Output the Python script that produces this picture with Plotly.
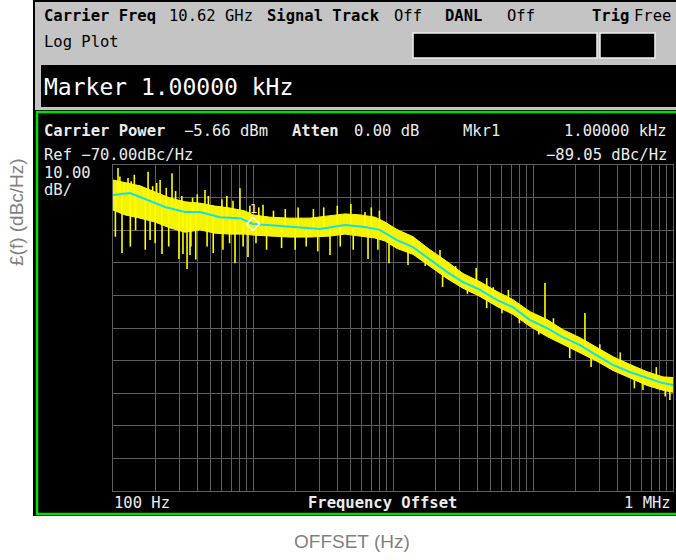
import numpy as np
import plotly.graph_objects as go

W, H = 676, 560

# ---- averaged (cyan) trace, offset frequency in Hz / level in dBc/Hz ----
avg_freq_hz = [100, 132, 156, 235, 327, 418, 580, 808, 1000, 1553, 2167, 3020,
               4530, 6300, 8040, 10600, 13900, 18400, 24300, 31600, 41900, 55100,
               71800, 94800, 125000, 163000, 215000, 283000, 372000, 491000,
               647000, 844000, 1000000]
avg_dbc = [-79.2, -78.6, -79.8, -82.9, -84.4, -84.4, -86.0, -86.3, -88.1, -88.7,
           -89.3, -89.6, -88.4, -89.0, -89.9, -93.0, -95.2, -99.1, -102.8, -105.9,
           -108.3, -111.4, -113.6, -117.5, -120.0, -122.8, -125.2, -128.3, -131.3,
           -133.5, -135.3, -136.9, -137.5]

# ---- raw (yellow) trace: dense band envelope ----
env_freq_hz = [100, 122, 156, 200, 255, 327, 418, 535, 685, 877, 1000, 1322, 1837,
               2553, 3548, 4540, 5808, 7440, 8770, 10680, 13900, 18370, 24300, 31620,
               41800, 55300, 71900, 95200, 125900, 163700, 216600, 286400, 372700,
               493100, 651600, 848300, 1000000]
env_upper_dbc = [-74.6, -75.5, -76.4, -78.3, -80.1, -81.3, -81.7, -82.6, -83.2, -84.1,
                 -85.3, -86.0, -86.3, -86.3, -85.6, -85.0, -85.3, -86.0, -87.5, -89.8,
                 -92.0, -96.0, -99.6, -103.3, -105.8, -108.8, -111.3, -115.0, -117.4,
                 -120.5, -123.0, -126.0, -128.8, -131.2, -133.4, -135.0, -135.2]
env_lower_dbc = [-83.8, -85.3, -86.3, -87.5, -89.3, -90.6, -89.9, -90.9, -91.2, -91.2,
                 -91.5, -91.8, -92.1, -92.1, -91.8, -91.2, -91.8, -92.4, -93.3, -95.6,
                 -97.4, -101.1, -104.8, -107.8, -110.3, -113.4, -115.8, -119.5, -122.6,
                 -125.0, -127.5, -130.2, -133.0, -135.4, -137.6, -139.1, -139.7]

# ---- raw (yellow) trace: individual noise spikes ----
spike_freq_hz = [108.6, 116, 128, 178, 184, 217, 224, 264, 296, 316, 338, 355, 454,
                 744, 807, 921, 1179, 3548, 6310, 6630, 9360, 12800, 13900, 21660,
                 22600, 39300, 46700, 46700, 66700, 80000, 121800, 183000, 235000,
                 610000, 950000,
                 112, 120, 135, 142, 165, 192, 205, 240, 280, 310, 370, 400, 480, 600,
                 650, 720, 950, 1100, 1400, 1700, 2100, 2700, 3200, 4000, 5000, 7000,
                 8000,
                 104, 133, 145, 170, 200, 250, 360, 390, 470, 520, 610, 680, 850, 1050,
                 1250, 1600, 2000, 2400, 2900, 4200, 5200, 7800,
                 15500, 28000, 52000, 140000, 300000, 420000, 760000,
                 17000, 34000, 60000, 110000, 260000, 530000, 880000]
spike_tip_dbc = [-70.9, -97.0, -74.0, -72.1, -93.0, -74.6, -97.3, -72.5, -98.8, -97.3,
                 -101.9, -97.6, -77.7, -100.1, -77.1, -98.2, -82.2, -97.6, -84.4, -98.8,
                 -100.1, -100.7, -92.1, -96.1, -107.4, -101.6, -104.7, -113.9, -108.3,
                 -118.5, -106.2, -129.2, -115.4, -139.0, -142.1,
                 -73.5, -76.0, -75.0, -73.0, -77.0, -76.5, -75.5, -77.0, -78.0, -79.5,
                 -80.0, -79.0, -79.5, -80.5, -79.5, -81.0, -82.5, -83.0, -84.0, -83.5,
                 -83.0, -83.5, -83.0, -82.5, -82.0, -83.0, -84.0,
                 -92.0, -95.0, -90.0, -96.0, -94.0, -95.0, -95.0, -99.0, -95.0, -97.0,
                 -96.0, -94.0, -95.0, -94.0, -96.0, -95.5, -96.0, -95.0, -96.5, -95.0,
                 -96.0, -96.0,
                 -93.5, -101.0, -107.5, -117.0, -125.0, -127.5, -132.0,
                 -101.0, -109.5, -115.5, -122.0, -132.0, -138.5, -141.0]

marker_freq_hz = 1000
marker_trace_dbc = -88.1
marker_readout = "-89.05 dBc/Hz"

x_gridvals = [k * 10 ** d for d in range(2, 6) for k in range(1, 10)] + [1e6]

# ---------------------------------------------------------------------------
def X(px):
    return px / W

def Y(py):
    return 1 - py / H

fig = go.Figure()

fig.add_trace(go.Scatter(x=env_freq_hz, y=env_lower_dbc, mode="lines",
                         line=dict(color="#ffff00", width=1), hoverinfo="skip",
                         showlegend=False))
fig.add_trace(go.Scatter(x=env_freq_hz, y=env_upper_dbc, mode="lines",
                         line=dict(color="#ffff00", width=1), fill="tonexty",
                         fillcolor="#f4f400", hoverinfo="skip", showlegend=False))

lf = np.log10(avg_freq_hz)
sx, sy = [], []
for f, tip in zip(spike_freq_hz, spike_tip_dbc):
    base = float(np.interp(np.log10(f), lf, avg_dbc))
    sx += [f, f, None]
    sy += [base, tip, None]
fig.add_trace(go.Scatter(x=sx, y=sy, mode="lines", line=dict(color="#ffff00", width=1.6),
                         hoverinfo="skip", showlegend=False))

fig.add_trace(go.Scatter(x=avg_freq_hz, y=avg_dbc, mode="lines",
                         line=dict(color="#10e0e8", width=2), hoverinfo="skip",
                         showlegend=False))

fig.add_trace(go.Scatter(x=[marker_freq_hz], y=[marker_trace_dbc], mode="markers",
                         marker=dict(symbol="diamond-open", size=10,
                                     color="#ffffff", line=dict(width=1.5, color="#ffffff")),
                         hoverinfo="skip", showlegend=False))

shapes = [
    dict(type="rect", xref="paper", yref="paper", x0=X(33), x1=X(690), y0=Y(0), y1=Y(516),
         fillcolor="#000000", line=dict(width=0), layer="below"),
    dict(type="rect", xref="paper", yref="paper", x0=X(35), x1=X(690), y0=Y(2), y1=Y(110),
         fillcolor="#c4c4c4", line=dict(width=0), layer="below"),
    dict(type="rect", xref="paper", yref="paper", x0=X(413), x1=X(597), y0=Y(33), y1=Y(58),
         fillcolor="#000000", line=dict(width=1.5, color="#f0f0f0"), layer="below"),
    dict(type="rect", xref="paper", yref="paper", x0=X(600), x1=X(655), y0=Y(33), y1=Y(58),
         fillcolor="#000000", line=dict(width=1.5, color="#f0f0f0"), layer="below"),
    dict(type="rect", xref="paper", yref="paper", x0=X(41), x1=X(690), y0=Y(65), y1=Y(107),
         fillcolor="#000000", line=dict(width=0), layer="below"),
    dict(type="rect", xref="paper", yref="paper", x0=X(37), x1=X(690), y0=Y(112), y1=Y(514),
         fillcolor="#000000", line=dict(width=2.5, color="#00e000"), layer="below"),
]

MONO = "DejaVu Sans Mono"
ann = []

def txt(s, px, py, size=15.5, color="#000000", anchor="left", bold=False, family=MONO,
        angle=0):
    ann.append(dict(text=("<b>%s</b>" % s) if bold else s, x=X(px), y=Y(py),
                    xref="paper", yref="paper", xanchor=anchor, yanchor="middle",
                    showarrow=False, textangle=angle,
                    font=dict(family=family, size=size, color=color)))

txt("Carrier Freq", 42, 16, bold=True)
txt("10.62 GHz", 167, 16)
txt("Signal Track", 265, 16, bold=True)
txt("Off", 392, 16)
txt("DANL", 443, 16, bold=True)
txt("Off", 505, 16)
txt("Trig", 590, 16, bold=True)
txt("Free", 632, 16)
txt("Log Plot", 42, 42)
txt("Marker 1.00000 kHz", 42, 87, size=23, color="#ffffff")

WH = "#ececec"
txt("Carrier Power", 42, 131, color=WH, bold=True)
txt("\u22125.66 dBm", 182, 131, color=WH)
txt("Atten", 290, 131, color=WH, bold=True)
txt("0.00 dB", 352, 131, color=WH)
txt("Mkr1", 461, 131, color=WH)
txt("1.00000 kHz", 669, 131, color=WH, anchor="right")
txt("Ref \u221270.00dBc/Hz", 42, 155, color=WH)
txt(marker_readout.replace("-", "\u2212"), 669, 155, color=WH, anchor="right")
txt("10.00", 42, 173, color=WH)
txt("dB/", 42, 190, color=WH)

txt("100 Hz", 112, 503, color=WH)
txt("Frequency Offset", 382, 503, color=WH, anchor="center", bold=True)
txt("1 MHz", 673, 503, color=WH, anchor="right")

txt("OFFSET (Hz)", 352, 541, size=19, color="#7f7f7f", anchor="center", family="Liberation Sans")
txt("\u00a3(f) (dBc/Hz)", 16, 212, size=19, color="#7f7f7f", anchor="center",
    family="Liberation Sans", angle=-90)

ann.append(dict(text="1", x=np.log10(marker_freq_hz), y=marker_trace_dbc, xref="x", yref="y",
                yshift=15, showarrow=False, font=dict(family=MONO, size=12, color="#ffffff")))

GRID = "#5e5e5e"
fig.update_layout(
    width=W, height=H, autosize=False,
    margin=dict(l=0, r=0, t=0, b=0),
    paper_bgcolor="#ffffff", plot_bgcolor="#000000",
    shapes=shapes, annotations=ann, showlegend=False, hovermode=False,
    xaxis=dict(type="log", range=[2, 6], domain=[X(113), X(673)],
               tickvals=x_gridvals, showticklabels=False, ticks="",
               showgrid=True, gridcolor=GRID, gridwidth=1, zeroline=False,
               showline=True, mirror=True, linecolor=GRID, linewidth=1),
    yaxis=dict(range=[-170, -70], domain=[Y(491), Y(165)], dtick=10,
               showticklabels=False, ticks="", showgrid=True, gridcolor=GRID,
               gridwidth=1, zeroline=False, showline=True, mirror=True,
               linecolor=GRID, linewidth=1),
)

fig.write_html("out.html", config={"displayModeBar": False, "staticPlot": True})

with open("out.html", "r", encoding="utf-8") as fh:
    page = fh.read()
page = page.replace("<head>", "<head><style>html,body{margin:0;padding:0;overflow:hidden}</style>", 1)
with open("out.html", "w", encoding="utf-8") as fh:
    fh.write(page)
